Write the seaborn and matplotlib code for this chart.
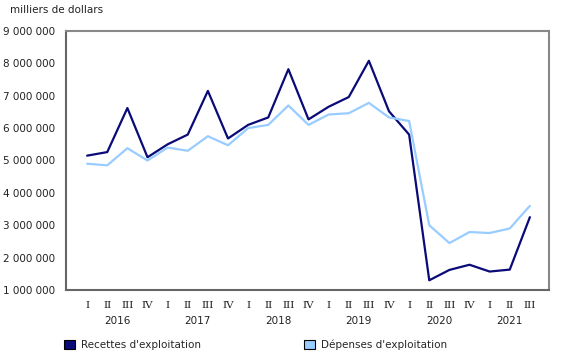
import matplotlib
matplotlib.use("Agg")
import matplotlib.pyplot as plt
from matplotlib.patches import Patch
import seaborn as sns
import pandas as pd
import numpy as np

quarters = ["I", "II", "III", "IV"] * 5 + ["I", "II", "III"]
years = ["2016", "2017", "2018", "2019", "2020", "2021"]
recettes = [5150000, 5260000, 6620000, 5100000, 5500000, 5800000, 7150000, 5680000,
            6100000, 6330000, 7820000, 6270000, 6660000, 6960000, 8080000, 6520000,
            5800000, 1300000, 1620000, 1780000, 1570000, 1630000, 3250000]
depenses = [4900000, 4850000, 5380000, 5000000, 5400000, 5300000, 5750000, 5470000,
            6000000, 6100000, 6700000, 6100000, 6420000, 6460000, 6780000, 6330000,
            6220000, 3000000, 2450000, 2790000, 2760000, 2900000, 3600000]
series_names = ["Recettes d'exploitation", "Dépenses d'exploitation"]
colors = ["#0a0a78", "#99ccff"]
yticks = [1000000, 2000000, 3000000, 4000000, 5000000, 6000000, 7000000, 8000000, 9000000]

n = len(quarters)
df = pd.DataFrame({
    "t": list(range(n)) * 2,
    "value": recettes + depenses,
    "serie": [series_names[0]] * n + [series_names[1]] * n,
})

sns.set_theme(style="white")
plt.rcParams['font.family'] = ['DejaVu Sans']

fig = plt.figure(figsize=(5.8, 3.6), dpi=100)
ax = fig.add_axes([66/580, 1 - 290/360, (549 - 66)/580, (290 - 31)/360])

sns.lineplot(data=df, x="t", y="value", hue="serie", palette=colors,
             hue_order=series_names, linewidth=1.6, ax=ax, legend=False)

ax.set_xlim(-1.05, n - 1 + 0.95)
ax.set_ylim(1000000, 9000000)
ax.set_yticks(yticks)
ax.set_yticklabels([f"{v:,}".replace(",", " ") for v in yticks], fontsize=7.5, color="#222222")
ax.set_xticks(range(n))
ax.set_xticklabels(quarters, fontsize=7.5, color="#222222", family="DejaVu Serif")
ax.set_xlabel("")
ax.set_ylabel("")
ax.tick_params(axis="x", direction="in", length=4, width=1, color="#555555", pad=8)
ax.tick_params(axis="y", direction="in", length=4, width=1, color="#555555", pad=8)
for s in ax.spines.values():
    s.set_color("#888888")
    s.set_linewidth(1.5)
ax.spines["left"].set_color("#666666")
ax.spines["bottom"].set_color("#666666")

# year labels
starts = [0, 4, 8, 12, 16, 20]
counts = [4, 4, 4, 4, 4, 3]
for yr, st, c in zip(years, starts, counts):
    ax.text(st + (c - 1) / 2, -0.10, yr, transform=ax.get_xaxis_transform(),
            ha="center", va="top", fontsize=7.5, color="#222222")

fig.text(10/580, 1 - 10/360, "milliers de dollars", fontsize=7.5,
         color="#222222", va="center", ha="left")

h1 = [Patch(facecolor=colors[0], edgecolor="black", linewidth=0.8)]
h2 = [Patch(facecolor=colors[1], edgecolor="black", linewidth=0.8)]
fig.legend(h1, [series_names[0]], loc="center left", bbox_to_anchor=(55/580, 1 - 345/360),
           frameon=False, fontsize=7.5, handlelength=1.0, handleheight=1.0, handletextpad=0.6)
fig.legend(h2, [series_names[1]], loc="center left", bbox_to_anchor=(295/580, 1 - 345/360),
           frameon=False, fontsize=7.5, handlelength=1.0, handleheight=1.0, handletextpad=0.6)

fig.savefig("out.png", dpi=100)
